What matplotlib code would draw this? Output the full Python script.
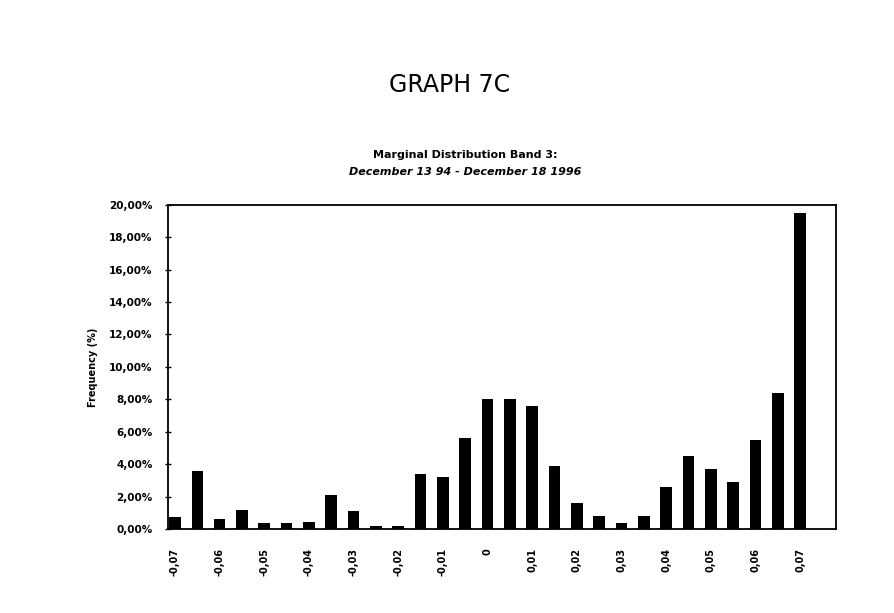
import matplotlib.pyplot as plt
import numpy as np

#Bin centres and frequencies (%)
bins = [-0.07, -0.065, -0.06, -0.055, -0.05, -0.045, -0.04, -0.035, -0.03, -0.025,
        -0.02, -0.015, -0.01, -0.005, 0.0, 0.005, 0.01, 0.015, 0.02, 0.025,
        0.03, 0.035, 0.04, 0.045, 0.05, 0.055, 0.06, 0.065, 0.07]
freq = [0.75, 3.6, 0.6, 1.2, 0.4, 0.4, 0.45, 2.1, 1.1, 0.2,
        0.2, 3.4, 3.2, 5.6, 8.0, 8.0, 7.6, 3.9, 1.6, 0.8,
        0.4, 0.8, 2.6, 4.5, 3.7, 2.9, 5.5, 8.4, 19.5]
xlabels = ['-0,07', '-0,06', '-0,05', '-0,04', '-0,03', '-0,02', '-0,01', '0',
           '0,01', '0,02', '0,03', '0,04', '0,05', '0,06', '0,07']
yticks = [0, 2, 4, 6, 8, 10, 12, 14, 16, 18, 20]

plt.rcParams['font.family'] = ['DejaVu Sans']

fig = plt.figure(figsize=(8.94, 6.13), dpi=100)
ax = fig.add_axes([0.188, 0.137, 0.747, 0.529])

pos = np.arange(len(bins))
ax.bar(pos, freq, width=0.52, color='black')

ax.set_xlim(-0.31, 29.6)
ax.set_ylim(0, 20)
ax.set_xticks(pos[::2])
ax.set_xticklabels(xlabels, rotation=90, fontsize=7, fontweight='bold')
ax.tick_params(axis='x', length=0, pad=14)
ax.set_yticks(yticks)
ax.set_yticklabels(['%d,00%%' % v for v in yticks], fontsize=7.5, fontweight='bold')
ax.tick_params(axis='y', direction='inout', length=4, width=1, pad=9)
ax.set_ylabel('Frequency (%)', fontsize=7, fontweight='bold', labelpad=8)

for s in ax.spines.values():
    s.set_linewidth(1.3)

fig.text(0.503, 0.862, 'GRAPH 7C', ha='center', va='center', fontsize=17,
         family='Liberation Sans Narrow')
fig.text(0.52, 0.747, 'Marginal Distribution Band 3:', ha='center', va='center',
         fontsize=8, fontweight='bold')
fig.text(0.52, 0.719, 'December 13 94 - December 18 1996', ha='center', va='center',
         fontsize=8, fontweight='bold', style='italic')

fig.savefig('out.png', dpi=100)
